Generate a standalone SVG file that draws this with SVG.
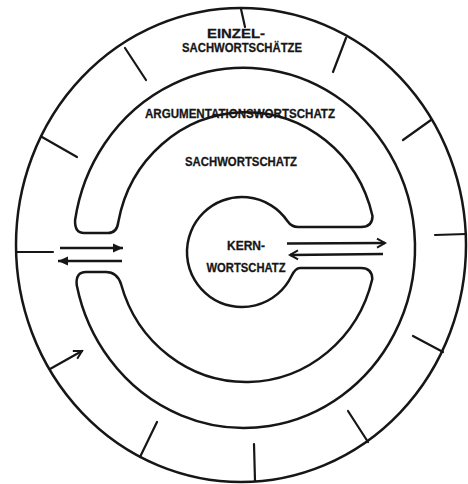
<svg xmlns="http://www.w3.org/2000/svg" width="468" height="484" viewBox="0 0 468 484">
<style>
.ln{fill:none;stroke:#161616;stroke-width:2.5;stroke-linecap:round;stroke-linejoin:round}
.tk{fill:none;stroke:#161616;stroke-width:2.2;stroke-linecap:round}
.ar{fill:none;stroke:#161616;stroke-width:2.6;stroke-linecap:butt}
.lb{font-family:"Liberation Sans",Arial,sans-serif;font-weight:bold;fill:#161616;font-size:13.5px;stroke:#161616;stroke-width:0.3}
</style>
<defs>
<marker id="fill" markerUnits="userSpaceOnUse" markerWidth="12" markerHeight="10" refX="10" refY="5" orient="auto">
<path d="M0,0.5 L10,5 L0,9.5 Z" fill="#161616"/>
</marker>
<marker id="open" markerUnits="userSpaceOnUse" markerWidth="12" markerHeight="12" refX="9" refY="6" orient="auto">
<path d="M1,1.5 L9,6 L1,10.5" fill="none" stroke="#161616" stroke-width="2"/>
</marker>
</defs>
<rect width="468" height="484" fill="#ffffff"/>
<g id="outer-ring">
<ellipse cx="241" cy="245" rx="225" ry="237" class="ln"/>
</g>
<g id="ticks">
<line x1="125" y1="48" x2="146" y2="80" class="tk"/>
<line x1="42" y1="137" x2="77" y2="157" class="tk"/>
<line x1="17" y1="252" x2="53" y2="252" class="tk" stroke-width="1.6"/>
<line x1="140" y1="457" x2="157" y2="422" class="tk"/>
<line x1="255" y1="481" x2="254" y2="444" class="tk"/>
<line x1="368" y1="442" x2="348" y2="411" class="tk"/>
<line x1="443" y1="352" x2="413" y2="336" class="tk"/>
<line x1="466" y1="234" x2="435" y2="235" class="tk"/>
<line x1="431" y1="120" x2="403" y2="140" class="tk"/>
<line x1="346" y1="38" x2="333" y2="72" class="tk"/>
<line x1="241" y1="9" x2="245" y2="27" class="tk"/>
</g>
<g id="c-band">
<path class="ln" d="M75.1,220 A171,180 0 1 1 76.7,285 Q75.5,272 86,272 L106,272 Q117,272 121,284 A130,135 0 0 0 372.3,279 Q372,268 361,268 L300,268 Q295.4,268 291.5,276 A55,55 0 1 1 287.4,221 Q291.5,227 298,227 L361,227 Q372.5,227 372.5,216 A130,135 0 0 0 118.3,222 Q117,233 108,233 L84,233 Q74.5,233 75.1,220 Z"/>
</g>
<g id="node-einzel">
<text x="236" y="38" text-anchor="middle" class="lb" textLength="58" lengthAdjust="spacingAndGlyphs">EINZEL-</text>
<text x="242" y="52" text-anchor="middle" class="lb" textLength="120" lengthAdjust="spacingAndGlyphs">SACHWORTSCHÄTZE</text>
</g>
<g id="node-argumentation">
<text x="240" y="118" text-anchor="middle" class="lb" textLength="190" lengthAdjust="spacingAndGlyphs">ARGUMENTATIONSWORTSCHATZ</text>
</g>
<g id="node-sach">
<text x="241" y="166" text-anchor="middle" class="lb" textLength="112" lengthAdjust="spacingAndGlyphs">SACHWORTSCHATZ</text>
</g>
<g id="node-kern">
<text x="246" y="250" text-anchor="middle" class="lb" textLength="38" lengthAdjust="spacingAndGlyphs">KERN-</text>
<text x="246" y="272" text-anchor="middle" class="lb" textLength="79" lengthAdjust="spacingAndGlyphs">WORTSCHATZ</text>
</g>
<g id="connectors">
<line x1="60" y1="248" x2="123" y2="248" class="ar" marker-end="url(#fill)"/>
<line x1="122" y1="261" x2="58" y2="261" class="ar" marker-end="url(#fill)"/>
<line x1="287" y1="243.5" x2="385" y2="243" class="ar" stroke-width="2.2" marker-end="url(#open)"/>
<line x1="383" y1="254" x2="290" y2="255" class="ar" stroke-width="2.2" marker-end="url(#open)"/>
<line x1="50" y1="369" x2="82" y2="351" class="tk" marker-end="url(#open)"/>
</g>
</svg>
